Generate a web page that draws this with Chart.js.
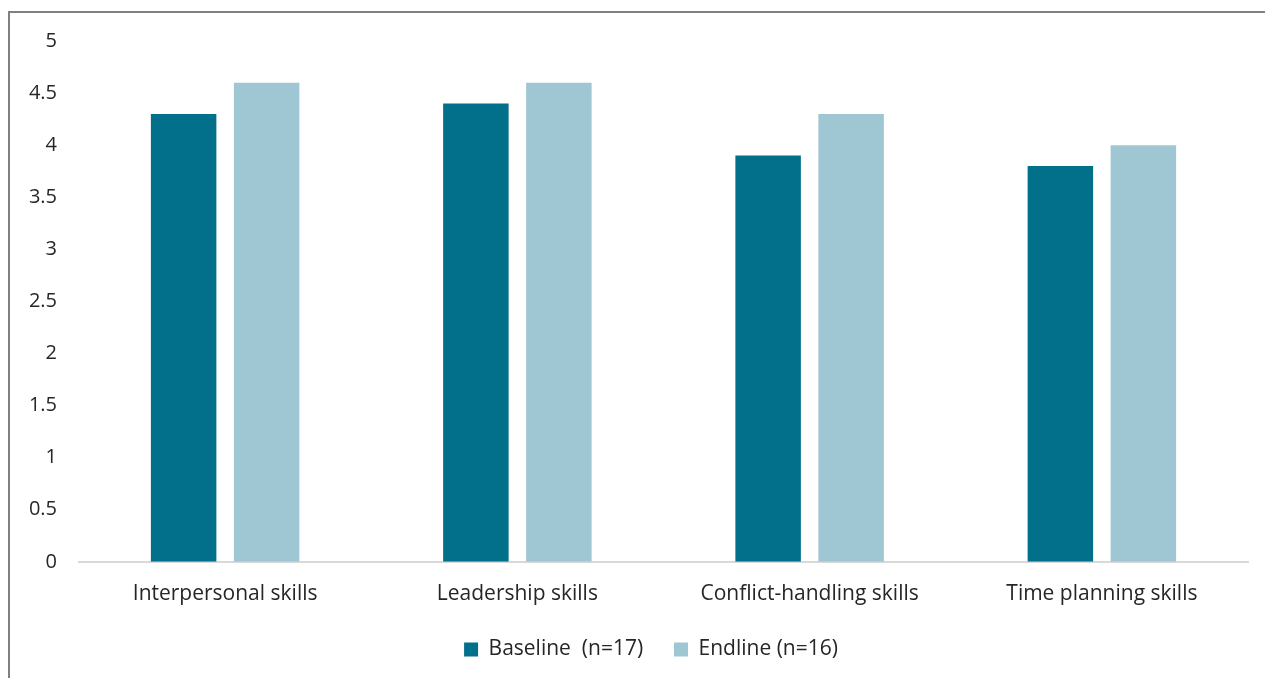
<!DOCTYPE html>
<html>
<head>
<meta charset="utf-8">
<script src="https://cdn.jsdelivr.net/npm/chart.js"></script>
<style>
  body { margin: 0; background: #fff; }
  #frame { position: absolute; left: 8px; top: 11px; width: 1400px; height: 800px;
           border-left: 2px solid #808080; border-top: 2px solid #808080; }
  #wrap { position: absolute; left: 0; top: 0; width: 1265px; height: 678px; }
</style>
</head>
<body>
<div id="frame"></div>
<div id="wrap"><canvas id="bar-chart"></canvas></div>
<script>
// data
let categories = ["Interpersonal skills", "Leadership skills", "Conflict-handling skills", "Time planning skills"];
let baseline = [4.3, 4.4, 3.9, 3.8];
let endline = [4.6, 4.6, 4.3, 4.0];
let seriesNames = ["Baseline  (n=17)", "Endline (n=16)"];
let yTicks = [0, 0.5, 1, 1.5, 2, 2.5, 3, 3.5, 4, 4.5, 5];

Chart.defaults.font.family = "'Open Sans', 'Noto Sans', sans-serif";
Chart.defaults.color = "#262626";

// legend in the original sits a bit right of centre
const nudgeLegend = {
  id: 'nudgeLegend',
  afterLayout(chart) {
    chart.legend.left += 22;
    chart.legend.right += 22;
  }
};

new Chart(document.getElementById("bar-chart"), {
  type: 'bar',
  data: {
    labels: categories,
    datasets: [{
      label: seriesNames[0],
      data: baseline,
      backgroundColor: "#03708b"
    }, {
      label: seriesNames[1],
      data: endline,
      backgroundColor: "#9fc7d3"
    }]
  },
  options: {
    responsive: true,
    maintainAspectRatio: false,
    animation: false,
    datasets: { bar: { categoryPercentage: 0.568, barPercentage: 0.789 } },
    layout: { padding: { left: 10, right: 17, top: 41, bottom: 8 } },
    plugins: {
      legend: {
        position: 'bottom',
        labels: {
          boxWidth: 14, boxHeight: 14, padding: 20, font: { size: 21 },
          generateLabels: function(chart) {
            let items = Chart.defaults.plugins.legend.labels.generateLabels(chart);
            // a little extra room between the two entries
            items[0].text = items[0].text + "  ";
            return items;
          }
        }
      },
      tooltip: { enabled: false }
    },
    scales: {
      x: {
        grid: { display: false },
        border: { display: true, color: "#d9d9d9", width: 2 },
        ticks: { font: { size: 21 }, padding: 12 }
      },
      y: {
        min: 0, max: 5,
        afterBuildTicks: function(axis) { axis.ticks = yTicks.map(v => ({ value: v })); },
        grid: { display: false, drawTicks: false },
        border: { display: false },
        ticks: { font: { size: 20 }, padding: 22, callback: v => String(v) },
        afterFit: function(axis) { axis.width = 69; }
      }
    }
  },
  plugins: [nudgeLegend]
});
</script>
</body>
</html>
